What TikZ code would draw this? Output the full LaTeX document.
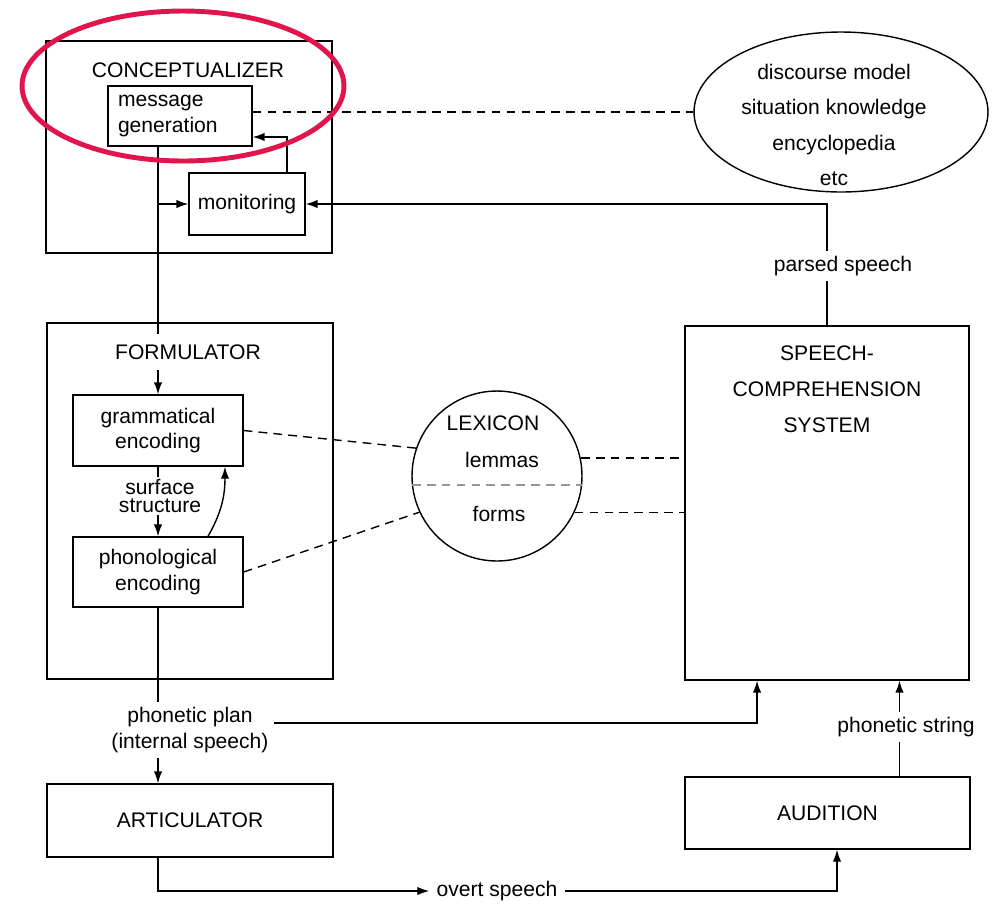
\documentclass[tikz,border=0pt]{standalone}
\usepackage{fontspec}
\setmainfont{Liberation Sans}
\usetikzlibrary{arrows.meta,shapes.geometric}
\definecolor{markred}{RGB}{225,20,75}
\definecolor{divgray}{RGB}{150,150,150}

\begin{document}
\begin{tikzpicture}[
    x=0.02cm, y=-0.02cm,
    font=\fontsize{12}{14.5}\selectfont,
    box/.style={rectangle, draw, line width=0.8pt, inner sep=0pt, align=center},
    title/.style={fill=white, inner xsep=2pt, inner ysep=0.2cm},
    tag/.style={align=center, inner sep=3pt},
    arrow/.style={-{Latex[length=2.4mm, width=1.7mm]}, line width=0.8pt},
    plain/.style={line width=0.8pt},
    link/.style={dash pattern=on 5pt off 3.5pt, line width=0.8pt}
]
\useasboundingbox (0,0) rectangle (997,904);

% conceptualizer
\node[box, minimum width=5.72cm, minimum height=4.24cm] (concept) at (189,147) {};
\node[title] (concepttitle) at (188,70) {CONCEPTUALIZER};
\node[box, minimum width=2.88cm, minimum height=1.2cm, text width=2.48cm, align=left, font=\fontsize{12}{15}\selectfont] (msg) at (180,116) {message\\generation};
\node[box, minimum width=2.32cm, minimum height=1.24cm] (mon) at (247,204) {monitoring};

\node[ellipse, draw, line width=0.8pt, minimum width=5.88cm, minimum height=3.2cm, inner sep=0pt] (know) at (841,112) {};
\node[align=center, font=\fontsize{12}{20}\selectfont] (knowtext) at (834,125) {discourse model\\situation knowledge\\encyclopedia\\etc};

% formulator
\node[box, minimum width=5.72cm, minimum height=7.12cm] (form) at (190,501) {};
\node[title] (formtitle) at (188,352) {FORMULATOR};
\node[box, minimum width=3.4cm, minimum height=1.42cm] (gram) at (158,430.5) {grammatical\\encoding};
\node[box, minimum width=3.4cm, minimum height=1.4cm] (phon) at (158,572) {phonological\\encoding};
\node[tag, inner sep=1pt, font=\fontsize{12}{10.5}\selectfont] (surface) at (160,496) {surface\\structure};

% lexicon
\node[circle, draw, line width=0.8pt, minimum size=3.4cm, inner sep=0pt] (lex) at (497,476) {};
\node (lextitle) at (493,423) {LEXICON};
\node (lemmas) at (502,460) {lemmas};
\node (forms) at (499,514) {forms};

% comprehension side
\node[box, minimum width=5.68cm, minimum height=7.08cm] (scs) at (827,503) {};
\node[align=center, font=\fontsize{12}{20.4}\selectfont] (scstitle) at (827,389) {SPEECH-\\COMPREHENSION\\SYSTEM};
\node[tag] (parsed) at (843,266) {parsed speech};
\node[box, minimum width=5.7cm, minimum height=1.44cm] (audi) at (827.5,813) {AUDITION};
\node[tag] (string) at (906,727) {phonetic string};

% articulation
\node[tag] (plan) at (190,730) {phonetic plan\\(internal speech)};
\node[box, minimum width=5.72cm, minimum height=1.46cm] (artic) at (190,820.5) {ARTICULATOR};
\node[tag, inner sep=4pt] (overt) at (497,891) {overt speech};

\draw[link] (msg.east |- know.west) -- (know.west);
\draw[arrow] ([xshift=0.8cm]mon.north) |- ([yshift=-0.42cm]msg.east);
\draw[plain] (msg.south -| gram.north) -- (formtitle.north -| gram.north);
\draw[arrow] (formtitle.south -| gram.north) -- (gram.north);
\draw[arrow] (mon.west -| gram.north) -- (mon.west);

\draw[plain] (gram.south) -- (surface.north -| gram.south);
\draw[arrow] (surface.south -| gram.south) -- (phon.north);
\draw[arrow] ([xshift=1cm]phon.north) to[out=60, in=-90] ([xshift=1.34cm]gram.south);

\draw[link] (gram.east) -- (lex.161);
\draw[link] (phon.east) -- (lex.205);
\draw[link, divgray] (lex.186) -- (lex.-6);
\draw[link] (lex.12) -- (lex.12 -| scs.west);
\draw[link] (lex.-25) -- (lex.-25 -| scs.west);

\draw[plain] (scs.north) -- (scs.north |- parsed.south);
\draw[arrow] (scs.north |- parsed.north) |- (mon.east);

\draw[plain] (phon.south) -- (phon.south |- plan.north);
\draw[arrow] (phon.south |- plan.south) -- (phon.south |- artic.north);
\draw[arrow] ([yshift=0.14cm]plan.east) -| ([xshift=-1.4cm]scs.south);

\draw[arrow] (artic.south -| phon.south) |- (overt.west);
\draw[arrow] (overt.east) -| ([xshift=0.19cm]audi.south);

\draw[plain] ([xshift=1.44cm]audi.north) -- ([xshift=1.44cm]audi.north |- string.south);
\draw[arrow] ([xshift=1.44cm]audi.north |- string.north) -- ([xshift=1.44cm]audi.north |- scs.south);

\node[ellipse, draw=markred, line width=2.8pt, minimum width=6.44cm, minimum height=3cm] (focus) at (183,86) {};
\end{tikzpicture}
\end{document}
